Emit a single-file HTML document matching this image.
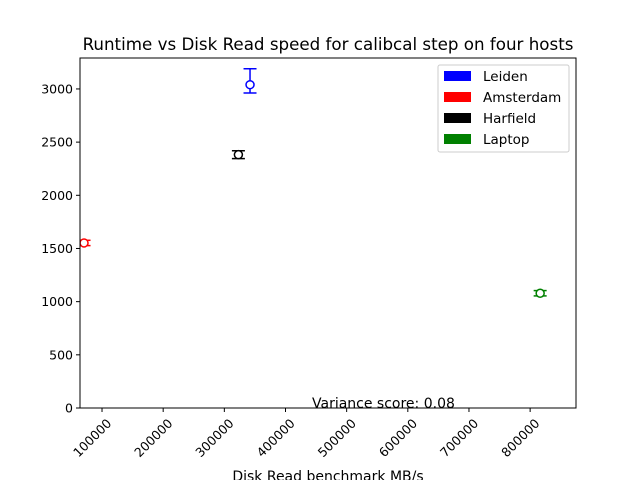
<!DOCTYPE html>
<html><head><meta charset="utf-8"><style>body{margin:0;background:#fff}svg{display:block;font-family:"DejaVu Sans","Liberation Sans",sans-serif}</style></head>
<body>
<svg id="c" width="640" height="480"></svg>
<script>
const hosts=["Leiden","Amsterdam","Harfield","Laptop"];
const colors=["#0000ff","#ff0000","#000000","#008000"];
const diskRead=[342000,70600,323000,816400];
const runtime=[3040,1552,2382,1079];
const runtimeErrUp=[150,25,37,25];
const runtimeErrDown=[78,25,37,25];
const xTicks=[100000,200000,300000,400000,500000,600000,700000,800000];
const yTicks=[0,500,1000,1500,2000,2500,3000];
const L=80,R=576,T=58,B=408,xMin=64000,xMax=875000,yMin=0,yMax=3291;
const sx=v=>L+(v-xMin)/(xMax-xMin)*(R-L);
const sy=v=>B-(v-yMin)/(yMax-yMin)*(B-T);
const svg=document.getElementById('c');const NS="http://www.w3.org/2000/svg";
function mk(t,a,p){const e=document.createElementNS(NS,t);for(const k in a)e.setAttribute(k,a[k]);(p||svg).appendChild(e);return e;}
let t=mk('text',{x:328,y:50,'text-anchor':'middle','font-size':16.7});t.textContent="Runtime vs Disk Read speed for calibcal step on four hosts";

const clip=mk('clipPath',{id:'cp'});mk('rect',{x:L,y:T,width:R-L,height:B-T},clip);
xTicks.forEach(v=>{const x=sx(v);mk('line',{x1:x,y1:B,x2:x,y2:B+4,stroke:'#000'});
 const l=mk('text',{transform:`translate(${x+4},${B+10}) rotate(-45)`,'text-anchor':'end','font-size':12.5,dy:'0.7em'});l.textContent=v;
 });
yTicks.forEach(v=>{const y=sy(v);mk('line',{x1:L-4,y1:y,x2:L,y2:y,stroke:'#000'});
 const l=mk('text',{x:L-7,y:y+4.5,'text-anchor':'end','font-size':12.5});l.textContent=v;
 });
const g=mk('g',{'clip-path':'url(#cp)'});
hosts.forEach((h,i)=>{const x=sx(diskRead[i]),y=sy(runtime[i]),y1=sy(runtime[i]+runtimeErrUp[i]),y2=sy(runtime[i]-runtimeErrDown[i]);
 const pg=mk('g',{stroke:colors[i],'stroke-width':1.5,fill:'none'},g);
 
 mk('line',{x1:x,y1:y1,x2:x,y2:y2},pg);mk('line',{x1:x-6.5,y1:y1,x2:x+6.5,y2:y1},pg);mk('line',{x1:x-6.5,y1:y2,x2:x+6.5,y2:y2},pg);
 mk('circle',{cx:x,cy:y,r:4,fill:'#fff'},pg);});
mk('rect',{x:L,y:T,width:R-L,height:B-T,fill:'none',stroke:'#000'});
const lg=mk('g',{});
mk('rect',{x:438,y:65,width:131,height:87,fill:'#fff',stroke:'#ccc',rx:2},lg);
hosts.forEach((h,i)=>{const y=76+i*21;const e=mk('g',{},lg);
 mk('rect',{x:444,y:y-5,width:27,height:10,fill:colors[i]},e);const tx=mk('text',{x:483,y:y+5,'font-size':13.5},e);tx.textContent=h;});
t=mk('text',{x:312,y:408,'font-size':14});t.textContent="Variance score: 0.08";
t=mk('text',{x:328,y:481,'text-anchor':'middle','font-size':14});t.textContent="Disk Read benchmark MB/s";
</script>
</body></html>
